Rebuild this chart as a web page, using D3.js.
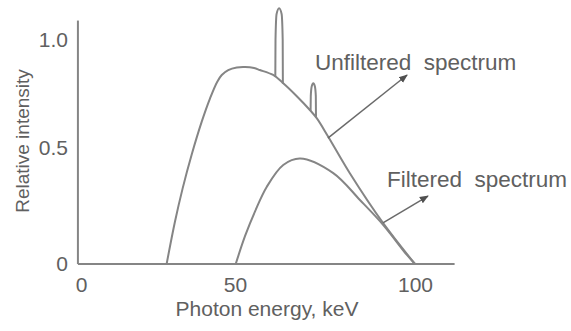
<!DOCTYPE html>
<html lang="en">
<head>
    <meta charset="UTF-8">
    <title>Unfiltered and filtered spectrum</title>
    <script src="https://d3js.org/d3.v7.min.js"></script>
    <style>
        body, html {
            margin: 0;
            background-color: #ffffff;
        }
        svg {
            font-family: "Liberation Sans", Arial, sans-serif;
        }
        .curve {
            fill: none;
            stroke: #858585;
            stroke-width: 2;
        }
        .tick text {
            fill: #606060;
            font-size: 21px;
        }
    </style>
</head>
<body>
<svg width="571" height="331"></svg>
<script>
    // energies (keV) and relative intensities
    const unfilteredE = [27.8, 30.5, 33.0, 35.9, 39.2, 41.9, 44.2, 45.7, 47.8, 50.5, 52.8, 55.3, 56.9,
                         60.6, 63.4, 67.1, 70.8, 72.7, 75.9, 81.9, 91.2, 100];
    const unfilteredI = [0, 0.182, 0.326, 0.470, 0.622, 0.730, 0.806, 0.838, 0.861, 0.873, 0.875, 0.870, 0.861,
                         0.838, 0.800, 0.741, 0.676, 0.638, 0.552, 0.391, 0.175, 0];
    // characteristic lines on top of the unfiltered spectrum
    const peak1E = [61.2, 61.25, 61.55, 62.25, 62.95, 63.25, 63.3];
    const peak1I = [0.832, 1.0, 1.12, 1.147, 1.12, 1.0, 0.797];
    const peak2E = [71.0, 71.05, 71.3, 71.75, 72.2, 72.45, 72.5];
    const peak2I = [0.672, 0.74, 0.785, 0.80, 0.785, 0.74, 0.642];

    const filteredE = [50.2, 52.8, 55.6, 58.8, 63.4, 68.1, 77.3, 84.7, 91.2, 97.7, 100];
    const filteredI = [0, 0.121, 0.228, 0.332, 0.427, 0.455, 0.392, 0.276, 0.168, 0.04, 0];

    const xTicks = [0, 50, 100];
    const yTicks = [0, 0.5, 1.0];
    const yTickLabels = ["0", "0.5", "1.0"];

    const svg = d3.select("svg");

    // the drawing is hand made, so the scales are piecewise
    const x = d3.scaleLinear().domain([0, 50, 100]).range([81, 235, 415]);
    const y = d3.scaleLinear().domain([0, 0.5, 1]).range([264, 148, 40]);

    const zip = (a, b) => a.map((e, i) => [e, b[i]]);

    const smooth = d3.line()
        .x(d => x(d[0]))
        .y(d => y(d[1]))
        .curve(d3.curveCatmullRom.alpha(0.5));

    const spike = d3.line()
        .x(d => x(d[0]))
        .y(d => y(d[1]))
        .curve(d3.curveMonotoneX);

    // axis lines
    svg.append("line")
        .attr("x1", x(-1)).attr("x2", x(-1))
        .attr("y1", y(1.09)).attr("y2", y(0))
        .attr("stroke", "#858585").attr("stroke-width", 2);
    svg.append("line")
        .attr("x1", x(-1)).attr("x2", x(111))
        .attr("y1", y(0)).attr("y2", y(0))
        .attr("stroke", "#858585").attr("stroke-width", 2);

    // tick labels only, no tick marks
    svg.append("g")
        .attr("transform", "translate(" + x(-1) + ",0)")
        .call(d3.axisLeft(y).tickValues(yTicks).tickSize(0).tickPadding(10)
            .tickFormat((d, i) => yTickLabels[i]))
        .call(g => g.select(".domain").remove());

    svg.append("g")
        .attr("transform", "translate(0," + y(0) + ")")
        .call(d3.axisBottom(x).tickValues(xTicks).tickSize(0).tickPadding(13))
        .call(g => g.select(".domain").remove());

    svg.selectAll(".tick text").attr("font-family", null);

    svg.append("text")
        .attr("x", 267).attr("y", 316)
        .attr("text-anchor", "middle")
        .attr("fill", "#606060").attr("font-size", 21)
        .text("Photon energy, keV");

    svg.append("text")
        .attr("transform", "translate(29,141) rotate(-90)")
        .attr("text-anchor", "middle")
        .attr("fill", "#606060").attr("font-size", 19)
        .text("Relative intensity");

    // curves
    svg.append("path").attr("class", "curve").attr("d", smooth(zip(unfilteredE, unfilteredI)));
    svg.append("path").attr("class", "curve").attr("d", spike(zip(peak1E, peak1I)));
    svg.append("path").attr("class", "curve").attr("d", spike(zip(peak2E, peak2I)));
    svg.append("path").attr("class", "curve").attr("d", smooth(zip(filteredE, filteredI)));

    // arrows and labels
    svg.append("defs").append("marker")
        .attr("id", "head")
        .attr("viewBox", "0 0 10 10")
        .attr("refX", 9).attr("refY", 5)
        .attr("markerWidth", 9).attr("markerHeight", 9)
        .attr("markerUnits", "userSpaceOnUse")
        .attr("orient", "auto")
        .append("path")
        .attr("d", "M0,1 L10,5 L0,9 Z")
        .attr("fill", "#505050");

    const arrows = [
        {from: [75.8, 0.546], to: [97.8, 0.838]},
        {from: [91.1, 0.177], to: [103.6, 0.293]}
    ];
    svg.selectAll(".arrow")
        .data(arrows)
        .enter().append("line")
        .attr("class", "arrow")
        .attr("x1", d => x(d.from[0])).attr("y1", d => y(d.from[1]))
        .attr("x2", d => x(d.to[0])).attr("y2", d => y(d.to[1]))
        .attr("stroke", "#6a6a6a").attr("stroke-width", 1.5)
        .attr("marker-end", "url(#head)");

    const labels = [
        {text: "Unfiltered\u00a0 spectrum", at: [72.2, 0.861]},
        {text: "Filtered\u00a0 spectrum", at: [92.2, 0.332]}
    ];
    svg.selectAll(".label")
        .data(labels)
        .enter().append("text")
        .attr("class", "label")
        .attr("x", d => x(d.at[0])).attr("y", d => y(d.at[1]))
        .attr("fill", "#606060").attr("font-size", 22.5)
        .text(d => d.text);
</script>
</body>
</html>
